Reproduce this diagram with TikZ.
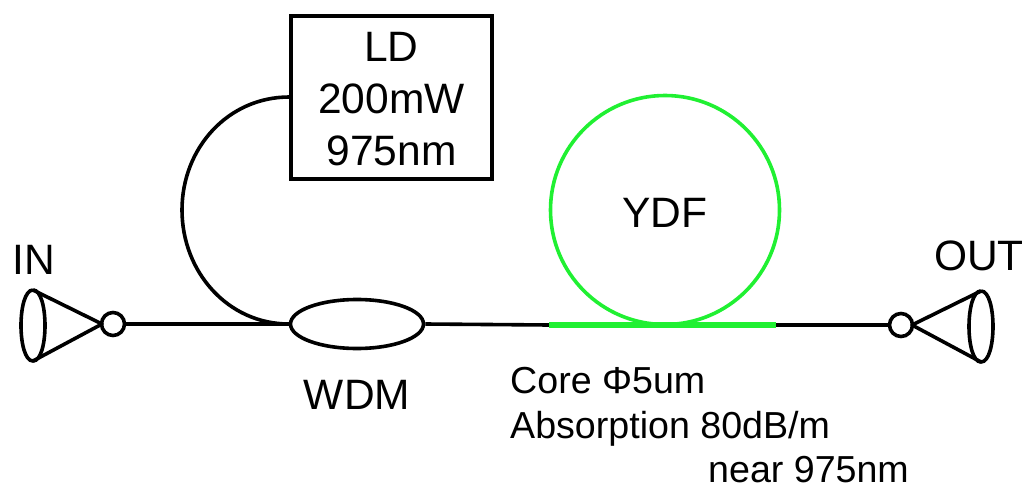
\documentclass[tikz,border=0pt]{standalone}
\usepackage{fontspec}
\setmainfont{Liberation Sans}
\usetikzlibrary{shapes.geometric}
\definecolor{ygreen}{RGB}{32,240,50}
\tikzset{
 wire/.style={line width=3.6pt,black},
 gwire/.style={line width=5.5pt,ygreen},
 lblc/.style={font=\fontsize{42.5pt}{50pt}\selectfont,inner sep=0pt,anchor=base},
 lbl/.style={font=\fontsize{37.6pt}{46pt}\selectfont,inner sep=0pt,anchor=base west},
 part/.style={draw,line width=3.6pt,inner sep=0pt},
}
\begin{document}
\begin{tikzpicture}[x=1pt,y=-1pt]
\useasboundingbox (0,0) rectangle (1028,487);
\node[part,minimum width=201pt,minimum height=163pt] (ld) at (391.5,97.5) {};
\node[lblc] (t1) at (391.5,62) {LD};
\node[lblc] (t2) at (391.5,113) {200mW};
\node[lblc] (t3) at (391.5,165) {975nm};
\node[part,ellipse,minimum width=133pt,minimum height=49pt] (wdm) at (357,324) {};
\node[lblc] (wl) at (357,409) {WDM};
\node[part,circle,minimum size=23pt] (cl) at (113,324) {};
\node[part,circle,minimum size=23pt] (cr) at (901,325) {};
\node[part,draw=ygreen,circle,minimum size=229pt] (ydf) at (665,210) {};
\node[lblc] (yl) at (665,227) {YDF};
\node[lblc] (inl) at (34,274) {IN};
\node[lblc] (outl) at (979,270) {OUT};
\node[lbl] (c1) at (510,393) {Core Φ5um};
\node[lbl] (c2) at (510,438) {Absorption 80dB/m};
\node[lbl] (c3) at (708,482) {near 975nm};
\coordinate (gs) at (549,325);
\coordinate (ge) at (776,325);
\draw[wire] (cl) -- (wdm.west);
\draw[wire] (wdm.east) -- (gs);
\draw[wire] (ge) -- (cr);
\draw[gwire] (gs) -- (ge);
\draw[wire] (ld.west |- 0,97) .. controls (228,97) and (182,148) .. (182,210) .. controls (182,272) and (228,324) .. (wdm.west);
\coordinate (la) at (102,324);
\coordinate (lt) at (33,290);
\coordinate (lb) at (33,361);
\draw[wire,line join=round] (lt) -- (la) -- (lb);
\draw[wire] (lt) .. controls (17,290) and (17,361) .. (lb) .. controls (49,361) and (49,290) .. (lt);
\coordinate (ra) at (912,325);
\coordinate (rt) at (981,291);
\coordinate (rb) at (981,362);
\draw[wire,line join=round] (rt) -- (ra) -- (rb);
\draw[wire] (rt) .. controls (997,291) and (997,362) .. (rb) .. controls (965,362) and (965,291) .. (rt);
\end{tikzpicture}
\end{document}
